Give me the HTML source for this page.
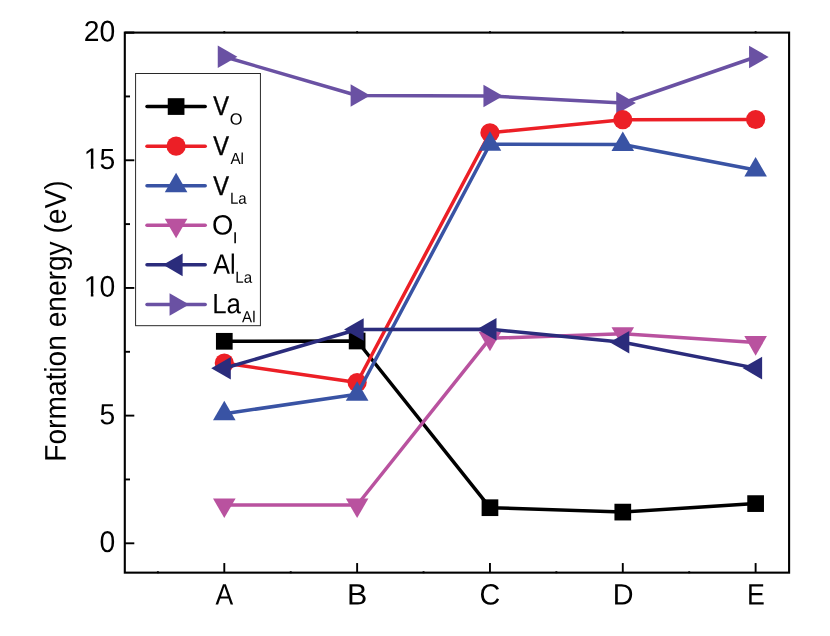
<!DOCTYPE html>
<html><head><meta charset="utf-8"><title>Formation energy</title>
<style>
html,body{margin:0;padding:0;background:#fff;}
body{width:830px;height:636px;overflow:hidden;}
svg{display:block;will-change:transform;}
text{font-family:"Liberation Sans",sans-serif;fill:#000;}
</style></head><body>
<svg width="830" height="636" viewBox="0 0 830 636">
<rect x="0" y="0" width="830" height="636" fill="#fff"/>
<polyline points="224.30,56.80 357.13,95.50 489.96,96.00 622.79,103.00 755.62,57.00" fill="none" stroke="#6A51A3" stroke-width="3.5" stroke-linejoin="round"/>
<polygon points="237.37,56.80 217.77,45.50 217.77,68.10" fill="#6A51A3"/>
<polygon points="370.20,95.50 350.60,84.20 350.60,106.80" fill="#6A51A3"/>
<polygon points="503.03,96.00 483.43,84.70 483.43,107.30" fill="#6A51A3"/>
<polygon points="635.86,103.00 616.26,91.70 616.26,114.30" fill="#6A51A3"/>
<polygon points="768.69,57.00 749.09,45.70 749.09,68.30" fill="#6A51A3"/>
<polyline points="224.30,341.30 357.13,341.00 489.96,507.70 622.79,512.10 755.62,503.60" fill="none" stroke="#000000" stroke-width="3.5" stroke-linejoin="round"/>
<rect x="215.95" y="332.95" width="16.7" height="16.7" fill="#000000"/>
<rect x="348.78" y="332.65" width="16.7" height="16.7" fill="#000000"/>
<rect x="481.61" y="499.35" width="16.7" height="16.7" fill="#000000"/>
<rect x="614.44" y="503.75" width="16.7" height="16.7" fill="#000000"/>
<rect x="747.27" y="495.25" width="16.7" height="16.7" fill="#000000"/>
<polyline points="224.30,363.10 357.13,382.50 489.96,132.80 622.79,119.70 755.62,119.50" fill="none" stroke="#EC1F26" stroke-width="3.5" stroke-linejoin="round"/>
<circle cx="224.30" cy="363.10" r="9.6" fill="#EC1F26"/>
<circle cx="357.13" cy="382.50" r="9.6" fill="#EC1F26"/>
<circle cx="489.96" cy="132.80" r="9.6" fill="#EC1F26"/>
<circle cx="622.79" cy="119.70" r="9.6" fill="#EC1F26"/>
<circle cx="755.62" cy="119.50" r="9.6" fill="#EC1F26"/>
<polyline points="224.30,413.70 357.13,394.30 489.96,144.30 622.79,144.50 755.62,170.00" fill="none" stroke="#3953A4" stroke-width="3.5" stroke-linejoin="round"/>
<polygon points="224.30,400.63 213.00,420.23 235.60,420.23" fill="#3953A4"/>
<polygon points="357.13,381.23 345.83,400.83 368.43,400.83" fill="#3953A4"/>
<polygon points="489.96,131.23 478.66,150.83 501.26,150.83" fill="#3953A4"/>
<polygon points="622.79,131.43 611.49,151.03 634.09,151.03" fill="#3953A4"/>
<polygon points="755.62,156.93 744.32,176.53 766.92,176.53" fill="#3953A4"/>
<polyline points="224.30,505.00 357.13,505.00 489.96,338.30 622.79,333.80 755.62,342.60" fill="none" stroke="#B9529F" stroke-width="3.5" stroke-linejoin="round"/>
<polygon points="224.30,518.07 213.00,498.47 235.60,498.47" fill="#B9529F"/>
<polygon points="357.13,518.07 345.83,498.47 368.43,498.47" fill="#B9529F"/>
<polygon points="489.96,351.37 478.66,331.77 501.26,331.77" fill="#B9529F"/>
<polygon points="622.79,346.87 611.49,327.27 634.09,327.27" fill="#B9529F"/>
<polygon points="755.62,355.67 744.32,336.07 766.92,336.07" fill="#B9529F"/>
<polyline points="224.30,368.30 357.13,329.50 489.96,329.30 622.79,342.20 755.62,368.10" fill="none" stroke="#2B2C7C" stroke-width="3.5" stroke-linejoin="round"/>
<polygon points="211.23,368.30 230.83,357.00 230.83,379.60" fill="#2B2C7C"/>
<polygon points="344.06,329.50 363.66,318.20 363.66,340.80" fill="#2B2C7C"/>
<polygon points="476.89,329.30 496.49,318.00 496.49,340.60" fill="#2B2C7C"/>
<polygon points="609.72,342.20 629.32,330.90 629.32,353.50" fill="#2B2C7C"/>
<polygon points="742.55,368.10 762.15,356.80 762.15,379.40" fill="#2B2C7C"/>
<rect x="124.8" y="32.6" width="664.30" height="540.05" fill="none" stroke="#000" stroke-width="2.1"/>
<line x1="124.8" y1="543.30" x2="134.3" y2="543.30" stroke="#000" stroke-width="1.9"/>
<text transform="translate(99.48,552.10) rotate(0.03) scale(1.0100,1.0750)" font-size="28">0</text>
<line x1="124.8" y1="415.62" x2="134.3" y2="415.62" stroke="#000" stroke-width="1.9"/>
<text transform="translate(99.56,424.32) rotate(0.03) scale(1.0100,1.0450)" font-size="28">5</text>
<line x1="124.8" y1="287.95" x2="134.3" y2="287.95" stroke="#000" stroke-width="1.9"/>
<text transform="translate(83.75,296.40) rotate(0.03) scale(1.0100,1.0550)" font-size="28">1</text>
<g transform="translate(83.75,296.40) rotate(0.03) scale(1.0100,1.0550)" fill="#fff"><rect x="1.094" y="-3.213" width="5.893" height="4.375"/><rect x="9.570" y="-3.213" width="5.674" height="4.375"/></g>
<text transform="translate(99.48,296.75) rotate(0.03) scale(1.0100,1.0750)" font-size="28">0</text>
<line x1="124.8" y1="160.27" x2="134.3" y2="160.27" stroke="#000" stroke-width="1.9"/>
<text transform="translate(83.83,168.72) rotate(0.03) scale(1.0100,1.0550)" font-size="28">1</text>
<g transform="translate(83.83,168.72) rotate(0.03) scale(1.0100,1.0550)" fill="#fff"><rect x="1.094" y="-3.213" width="5.893" height="4.375"/><rect x="9.570" y="-3.213" width="5.674" height="4.375"/></g>
<text transform="translate(99.56,168.97) rotate(0.03) scale(1.0100,1.0450)" font-size="28">5</text>
<text transform="translate(83.75,40.90) rotate(0.03) scale(1.0100,1.0300)" font-size="28">2</text>
<text transform="translate(99.48,41.40) rotate(0.03) scale(1.0100,1.0750)" font-size="28">0</text>
<line x1="124.8" y1="32.6" x2="134.3" y2="32.6" stroke="#000" stroke-width="2.1"/>
<line x1="124.8" y1="479.46" x2="130.0" y2="479.46" stroke="#000" stroke-width="1.9"/>
<line x1="124.8" y1="351.79" x2="130.0" y2="351.79" stroke="#000" stroke-width="1.9"/>
<line x1="124.8" y1="224.11" x2="130.0" y2="224.11" stroke="#000" stroke-width="1.9"/>
<line x1="124.8" y1="96.44" x2="130.0" y2="96.44" stroke="#000" stroke-width="1.9"/>
<line x1="224.30" y1="572.65" x2="224.30" y2="563.05" stroke="#000" stroke-width="1.9"/>
<text transform="translate(215.45,604.40) rotate(0.03) scale(0.9479,1.0500)" font-size="28">A</text>
<line x1="357.13" y1="572.65" x2="357.13" y2="563.05" stroke="#000" stroke-width="1.9"/>
<text transform="translate(347.10,604.40) rotate(0.03) scale(1.0871,1.0500)" font-size="28">B</text>
<line x1="489.96" y1="572.65" x2="489.96" y2="563.05" stroke="#000" stroke-width="1.9"/>
<text transform="translate(479.54,604.40) rotate(0.03) scale(1.0264,1.0500)" font-size="28">C</text>
<line x1="622.79" y1="572.65" x2="622.79" y2="563.05" stroke="#000" stroke-width="1.9"/>
<text transform="translate(612.79,604.40) rotate(0.03) scale(1.0281,1.0500)" font-size="28">D</text>
<line x1="755.62" y1="572.65" x2="755.62" y2="563.05" stroke="#000" stroke-width="1.9"/>
<text transform="translate(747.01,604.40) rotate(0.03) scale(0.9555,1.0500)" font-size="28">E</text>
<rect x="223.35" y="31.20" width="1.9" height="2" fill="#000"/>
<rect x="356.18" y="31.20" width="1.9" height="2" fill="#000"/>
<rect x="489.01" y="31.20" width="1.9" height="2" fill="#000"/>
<rect x="621.84" y="31.20" width="1.9" height="2" fill="#000"/>
<rect x="754.67" y="31.20" width="1.9" height="2" fill="#000"/>
<rect x="156.94" y="571.25" width="1.9" height="2" fill="#000"/>
<rect x="289.77" y="571.25" width="1.9" height="2" fill="#000"/>
<rect x="422.60" y="571.25" width="1.9" height="2" fill="#000"/>
<rect x="555.42" y="571.25" width="1.9" height="2" fill="#000"/>
<rect x="688.25" y="571.25" width="1.9" height="2" fill="#000"/>
<text transform="translate(65.7,461.71) rotate(-89.97) scale(1.0044,1.07)" font-size="28">Formation energy (eV)</text>
<rect x="135.6" y="73.5" width="124.8" height="252.2" fill="#fff" stroke="#1e1e1e" stroke-width="0.95"/>
<line x1="147.0" y1="106.55" x2="205.2" y2="106.55" stroke="#000000" stroke-width="3.5" stroke-linecap="round"/>
<rect x="167.75" y="98.20" width="16.7" height="16.7" fill="#000000"/>
<text stroke="#000" stroke-width="0.45" transform="translate(213.25,115.45) rotate(0.03) scale(0.8722,0.9950)" font-size="27">V</text>
<text transform="translate(229.77,124.55) rotate(0.03) scale(1.0255,1.0000)" font-size="16">O</text>
<line x1="147.0" y1="146.13" x2="205.2" y2="146.13" stroke="#EC1F26" stroke-width="3.5" stroke-linecap="round"/>
<circle cx="176.10" cy="146.13" r="9.6" fill="#EC1F26"/>
<text stroke="#000" stroke-width="0.45" transform="translate(213.25,155.08) rotate(0.03) scale(0.8722,0.9950)" font-size="27">V</text>
<text transform="translate(230.42,164.10) rotate(0.03) scale(0.9524,1.0000)" font-size="16">Al</text>
<line x1="147.0" y1="185.71" x2="205.2" y2="185.71" stroke="#3953A4" stroke-width="3.5" stroke-linecap="round"/>
<polygon points="176.10,172.64 164.80,192.24 187.40,192.24" fill="#3953A4"/>
<text stroke="#000" stroke-width="0.45" transform="translate(213.25,194.71) rotate(0.03) scale(0.8722,0.9950)" font-size="27">V</text>
<text transform="translate(229.92,203.65) rotate(0.03) scale(0.9403,1.0000)" font-size="16">La</text>
<line x1="147.0" y1="225.29" x2="205.2" y2="225.29" stroke="#B9529F" stroke-width="3.5" stroke-linecap="round"/>
<polygon points="176.10,238.36 164.80,218.76 187.40,218.76" fill="#B9529F"/>
<text transform="translate(212.05,234.49) rotate(0.03) scale(1.0146,1.0350)" font-size="27">O</text>
<text transform="translate(232.77,243.20) rotate(0.03) scale(1.0723,1.0000)" font-size="16">I</text>
<line x1="147.0" y1="264.87" x2="205.2" y2="264.87" stroke="#2B2C7C" stroke-width="3.5" stroke-linecap="round"/>
<polygon points="163.03,264.87 182.63,253.57 182.63,276.17" fill="#2B2C7C"/>
<text transform="translate(213.15,273.72) rotate(0.03) scale(0.9323,1.0350)" font-size="27">Al</text>
<text transform="translate(235.31,282.75) rotate(0.03) scale(0.9464,1.0000)" font-size="16">La</text>
<line x1="147.0" y1="304.45" x2="205.2" y2="304.45" stroke="#6A51A3" stroke-width="3.5" stroke-linecap="round"/>
<polygon points="189.17,304.45 169.57,293.15 169.57,315.75" fill="#6A51A3"/>
<text transform="translate(212.13,313.35) rotate(0.03) scale(0.9580,1.0350)" font-size="27">La</text>
<text transform="translate(242.12,322.30) rotate(0.03) scale(0.9448,1.0000)" font-size="16">Al</text>
</svg></body></html>
